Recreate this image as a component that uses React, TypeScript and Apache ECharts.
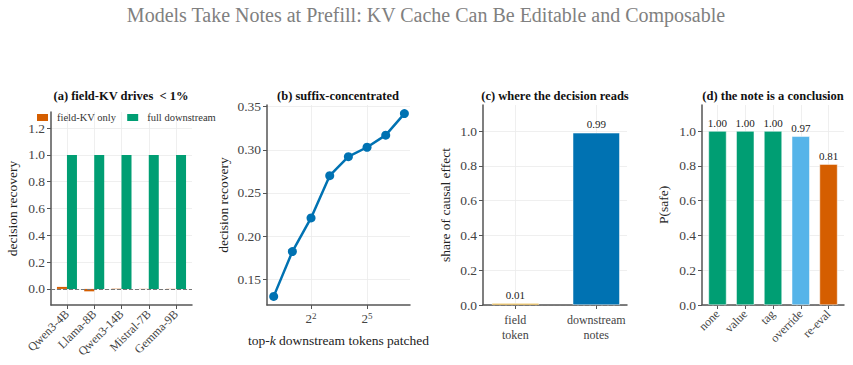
import React, { useEffect, useRef } from 'react';
import * as echarts from 'echarts';

const modelNames = ['Qwen3-4B', 'Llama-8B', 'Qwen3-14B', 'Mistral-7B', 'Gemma-9B'];
const fieldKvOnly = [0.015, -0.018, 0.002, 0.001, 0.001];
const fullDownstream = [1.0, 1.0, 1.0, 1.0, 1.0];

const topK = [1, 2, 4, 8, 16, 32, 64, 128];
const suffixRecovery = [0.13, 0.182, 0.221, 0.27, 0.292, 0.303, 0.317, 0.342];

const readSites = ['field\ntoken', 'downstream\nnotes'];
const readShares = [0.01, 0.99];
const readColors = ['#E69F00', '#0072B2'];

const noteConditions = ['none', 'value', 'tag', 'override', 're-eval'];
const pSafe = [1.0, 1.0, 1.0, 0.97, 0.81];
const noteColors = ['#009E73', '#009E73', '#009E73', '#56B4E9', '#D55E00'];

const ticksA = [0, 0.2, 0.4, 0.6, 0.8, 1.0, 1.2];
const ticksB = [0.15, 0.2, 0.25, 0.3, 0.35];
const ticksCD = [0, 0.2, 0.4, 0.6, 0.8, 1.0];
const ticksK = [4, 32];

const SERIF = "'Liberation Serif', 'Times New Roman', serif";
const AXIS = '#555';
const GRIDC = '#ebebeb';
const YTICK_FS = 13.5;
const XTICK_FS = 12;
const NAME_FS = 13.5;

function yAxisCfg(gridIndex: number, min: number, max: number, ticks: number[], digits: number, name: string, nameGap: number) {
  return {
    type: 'value',
    gridIndex,
    min,
    max,
    name,
    nameLocation: 'middle',
    nameGap,
    nameTextStyle: { fontFamily: SERIF, fontSize: NAME_FS, color: '#222' },
    axisLine: { show: true, onZero: false, lineStyle: { color: AXIS, width: 1.5 } },
    axisTick: { show: true, length: 4, customValues: ticks, lineStyle: { color: AXIS, width: 1 } },
    axisLabel: {
      customValues: ticks,
      fontFamily: SERIF,
      fontSize: YTICK_FS,
      color: '#444',
      margin: 6,
      formatter: (v: number) => v.toFixed(digits),
    },
    splitLine: { show: true, lineStyle: { color: GRIDC, width: 0.8 } },
  };
}

function catXAxisCfg(gridIndex: number, min: number, max: number, names: string[], rotate: number) {
  const idx = names.map((_, i) => i);
  return {
    type: 'value',
    gridIndex,
    min,
    max,
    axisLine: { show: true, onZero: false, lineStyle: { color: AXIS, width: 1.5 } },
    axisTick: { show: true, length: 4, customValues: idx, lineStyle: { color: AXIS, width: 1 } },
    axisLabel: {
      customValues: idx,
      fontFamily: SERIF,
      fontSize: XTICK_FS,
      color: '#444',
      rotate,
      margin: 7,
      lineHeight: 15,
      formatter: (v: number) => names[Math.round(v)] ?? '',
    },
    splitLine: { show: true, lineStyle: { color: GRIDC, width: 0.8 } },
  };
}

const zeroLine = {
  silent: true,
  symbol: ['none', 'none'],
  label: { show: false },
  lineStyle: { type: [4, 2], color: '#777', width: 1 },
  data: [{ yAxis: 0 }],
};

export default function App() {
  const ref = useRef<HTMLDivElement>(null);

  useEffect(() => {
    document.body.style.margin = '0';
    if (!ref.current) return;
    const chart = echarts.init(ref.current, null, { renderer: 'svg' });

    const panelTitle = (text: string, x: number, y: number) => ({
      type: 'text',
      x,
      y,
      style: {
        text,
        align: 'center',
        verticalAlign: 'middle',
        fontFamily: SERIF,
        fontSize: 12.5,
        fontWeight: 'bold',
        fill: '#111',
      },
    });

    const option: any = {
      animation: false,
      backgroundColor: '#ffffff',
      textStyle: { fontFamily: SERIF },
      graphic: [
        {
          type: 'text',
          x: 426,
          y: 15,
          style: {
            text: 'Models Take Notes at Prefill: KV Cache Can Be Editable and Composable',
            align: 'center',
            verticalAlign: 'middle',
            fontFamily: SERIF,
            fontSize: 20,
            fill: '#808080',
          },
        },
        panelTitle('(a) field-KV drives  < 1%', 121, 96),
        panelTitle('(b) suffix-concentrated', 338, 96),
        panelTitle('(c) where the decision reads', 555, 96),
        panelTitle('(d) the note is a conclusion', 773, 96),
      ],
      legend: {
        data: ['field-KV only', 'full downstream'],
        left: 37,
        top: 112,
        padding: 0,
        itemWidth: 11,
        itemHeight: 7,
        itemGap: 11,
        icon: 'rect',
        textStyle: { fontFamily: SERIF, fontSize: 10.5, color: '#333', padding: [0, 0, 0, 4] },
      },
      grid: [
        { left: 51, top: 112, width: 141, height: 193 },
        { left: 267, top: 105, width: 143, height: 200 },
        { left: 483, top: 105, width: 144, height: 200 },
        { left: 702, top: 105, width: 142, height: 200 },
      ],
      xAxis: [
        catXAxisCfg(0, -0.585, 4.585, modelNames, 45),
        {
          type: 'log',
          logBase: 2,
          gridIndex: 1,
          min: 0.78,
          max: 157.6,
          name: 'top-{i|k} downstream tokens patched',
          nameLocation: 'middle',
          nameGap: 28,
          nameTextStyle: {
            fontFamily: SERIF,
            fontSize: NAME_FS,
            color: '#222',
            rich: { i: { fontFamily: SERIF, fontSize: NAME_FS, color: '#222', fontStyle: 'italic' } },
          },
          axisLine: { show: true, onZero: false, lineStyle: { color: AXIS, width: 1.5 } },
          axisTick: { show: true, length: 4, customValues: ticksK, lineStyle: { color: AXIS, width: 1 } },
          axisLabel: {
            customValues: ticksK,
            margin: 6,
            formatter: (v: number) => `{b|2}{s|${Math.round(Math.log2(v))}}`,
            rich: {
              b: { fontFamily: SERIF, fontSize: 13, color: '#444', lineHeight: 15 },
              s: { fontFamily: SERIF, fontSize: 9, color: '#444', lineHeight: 9, verticalAlign: 'top' },
            },
          },
          splitLine: { show: true, lineStyle: { color: GRIDC, width: 0.8 } },
        },
        catXAxisCfg(2, -0.4, 1.38, readSites, 0),
        catXAxisCfg(3, -0.5575, 4.5575, noteConditions, 45),
      ],
      yAxis: [
        yAxisCfg(0, -0.12, 1.32, ticksA, 1, 'decision recovery', 32),
        yAxisCfg(1, 0.12, 0.352, ticksB, 2, 'decision recovery', 37),
        yAxisCfg(2, 0, 1.15, ticksCD, 1, 'share of causal effect', 31),
        yAxisCfg(3, 0, 1.15, ticksCD, 1, 'P(safe)', 32),
      ],
      series: [
        {
          name: 'field-KV only',
          type: 'bar',
          xAxisIndex: 0,
          yAxisIndex: 0,
          barWidth: 10,
          barGap: '0%',
          itemStyle: { color: '#D55E00' },
          data: modelNames.map((_, i) => [i, fieldKvOnly[i]]),
          markLine: zeroLine,
        },
        {
          name: 'full downstream',
          type: 'bar',
          xAxisIndex: 0,
          yAxisIndex: 0,
          barWidth: 10,
          barGap: '0%',
          itemStyle: { color: '#009E73' },
          data: modelNames.map((_, i) => [i, fullDownstream[i]]),
        },
        {
          type: 'line',
          xAxisIndex: 1,
          yAxisIndex: 1,
          symbol: 'circle',
          symbolSize: 9,
          lineStyle: { color: '#0072B2', width: 2.5 },
          itemStyle: { color: '#0072B2' },
          data: topK.map((k, i) => [k, suffixRecovery[i]]),
        },
        {
          type: 'bar',
          xAxisIndex: 2,
          yAxisIndex: 2,
          barWidth: 47,
          data: readSites.map((_, i) => ({
            value: [i, readShares[i]],
            itemStyle: { color: readColors[i], borderColor: '#ffffff', borderWidth: 0.5 },
          })),
          label: {
            show: true,
            position: 'top',
            distance: 3,
            fontFamily: SERIF,
            fontSize: 11,
            color: '#222',
            formatter: (p: any) => p.value[1].toFixed(2),
          },
          markLine: zeroLine,
        },
        {
          type: 'bar',
          xAxisIndex: 3,
          yAxisIndex: 3,
          barWidth: 18,
          data: noteConditions.map((_, i) => ({
            value: [i, pSafe[i]],
            itemStyle: { color: noteColors[i], borderColor: '#ffffff', borderWidth: 0.5 },
          })),
          label: {
            show: true,
            position: 'top',
            distance: 3,
            fontFamily: SERIF,
            fontSize: 11,
            color: '#222',
            formatter: (p: any) => p.value[1].toFixed(2),
          },
          markLine: zeroLine,
        },
      ],
    };

    chart.setOption(option);
    return () => chart.dispose();
  }, []);

  return <div ref={ref} style={{ width: 853, height: 365 }} />;
}
